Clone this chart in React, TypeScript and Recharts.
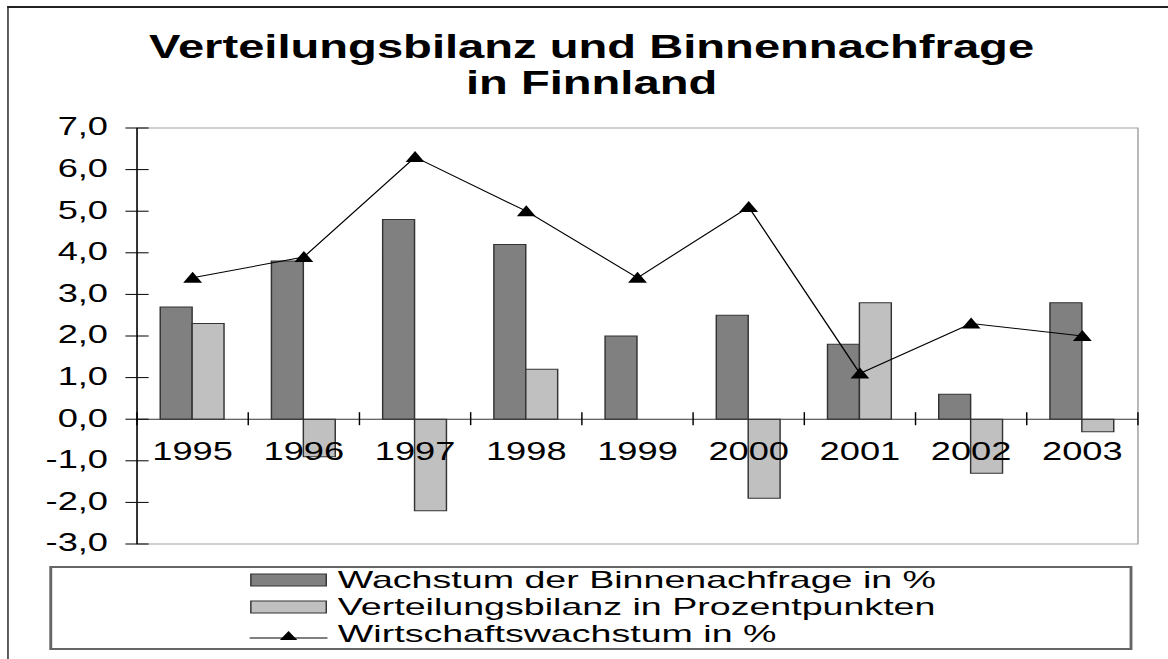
import {
  ComposedChart,
  Bar,
  Line,
  XAxis,
  YAxis,
  ReferenceLine,
  ReferenceArea,
} from "recharts";

// the reference is stretched sideways, so everything is laid out narrow and scaled
const STRETCH = 1.45;
const W = 806;
const H = 659;
const FONT = '"Liberation Sans", Arial, sans-serif';

const years = ["1995", "1996", "1997", "1998", "1999", "2000", "2001", "2002", "2003"];
const binnennachfrage = [2.7, 3.8, 4.8, 4.2, 2.0, 2.5, 1.8, 0.6, 2.8];
const verteilungsbilanz = [2.3, -0.9, -2.2, 1.2, 0, -1.9, 2.8, -1.3, -0.3];
const wirtschaftswachstum = [3.4, 3.9, 6.3, 5.0, 3.4, 5.1, 1.1, 2.3, 2.0];
const yTicks = [-3, -2, -1, 0, 1, 2, 3, 4, 5, 6, 7];

const seriesNames = [
  "Wachstum der Binnenachfrage in %",
  "Verteilungsbilanz in Prozentpunkten",
  "Wirtschaftswachstum in %",
];

const DARK = "#808080";
const LIGHT = "#c0c0c0";

const data = years.map((year, i) => ({
  year,
  binnen: binnennachfrage[i],
  bilanz: verteilungsbilanz[i],
  wachstum: wirtschaftswachstum[i],
}));

const PLOT_LEFT = 94.5;
const PLOT_RIGHT = 784.8;
const PLOT_TOP = 128;
const PLOT_BOTTOM = 544;
const Y_W = 60;
const X_H = 1;
const Y_MIN = -3;
const Y_MAX = 7;
const PLOT_H = PLOT_BOTTOM - PLOT_TOP;
const BAND = (PLOT_RIGHT - PLOT_LEFT) / years.length;
const ZERO_Y = PLOT_TOP + (PLOT_H * Y_MAX) / (Y_MAX - Y_MIN);
const TICK_FONT = 25;

const Triangle = (props: any) => {
  const { cx, cy } = props;
  if (cx == null || cy == null) return null;
  return (
    <path
      d={`M${cx},${cy - 6} L${cx + 6.5},${cy + 5} L${cx - 6.5},${cy + 5} Z`}
      fill="#000"
    />
  );
};

const YTick = (props: any) => {
  const { y, payload } = props;
  return (
    <g>
      <line x1={PLOT_LEFT - 8} x2={PLOT_LEFT + 8} y1={y} y2={y} stroke="#000" />
      <text
        x={PLOT_LEFT - 20}
        y={y}
        dy="0.3em"
        textAnchor="end"
        fontFamily={FONT}
        fontSize={TICK_FONT}
        fill="#000"
      >
        {payload.value.toFixed(1).replace(".", ",")}
      </text>
    </g>
  );
};

const XTick = (props: any) => {
  const { x, payload, index } = props;
  const left = x - BAND / 2;
  const right = x + BAND / 2;
  return (
    <g>
      <line x1={left} x2={left} y1={ZERO_Y - 7} y2={ZERO_Y + 6} stroke="#000" />
      {index === years.length - 1 && (
        <line x1={right} x2={right} y1={ZERO_Y - 7} y2={ZERO_Y + 6} stroke="#000" />
      )}
      <text
        x={x}
        y={ZERO_Y + 41}
        textAnchor="middle"
        fontFamily={FONT}
        fontSize={TICK_FONT}
        fill="#000"
      >
        {payload.value}
      </text>
    </g>
  );
};

function LegendBox() {
  const rows = [
    { name: seriesNames[0], kind: "bar", color: DARK },
    { name: seriesNames[1], kind: "bar", color: LIGHT },
    { name: seriesNames[2], kind: "line", color: "#000" },
  ];
  const ROW = 27;
  return (
    <div
      style={{
        position: "absolute",
        left: 33.8,
        top: 566,
        width: 747,
        height: 84,
        boxSizing: "border-box",
        border: "2px solid #666",
        background: "#fff",
        fontFamily: FONT,
      }}
    >
      {rows.map((r, i) => (
        <div
          key={r.name}
          style={{
            position: "absolute",
            left: 136,
            top: -2 + i * ROW,
            height: ROW,
            display: "flex",
            alignItems: "center",
            whiteSpace: "nowrap",
          }}
        >
          <svg width={54} height={14} style={{ marginRight: 7, flex: "none" }}>
            {r.kind === "bar" ? (
              <rect x={1} y={1} width={52} height={12} fill={r.color} stroke="#333" />
            ) : (
              <g>
                <line x1={0} x2={54} y1={11} y2={11} stroke="#000" />
                <path d="M27,4 L33,13 L21,13 Z" fill="#000" />
              </g>
            )}
          </svg>
          <span
            style={{
              display: "inline-block",
              fontSize: 24,
              lineHeight: `${ROW}px`,
              color: "#000",
              transform: "scaleX(1.08)",
              transformOrigin: "0 50%",
            }}
          >
            {r.name}
          </span>
        </div>
      ))}
    </div>
  );
}

export default function App() {
  return (
    <div
      style={{
        position: "absolute",
        left: 0,
        top: 0,
        width: W,
        height: H,
        overflow: "hidden",
        background: "#fff",
        transform: `scaleX(${STRETCH})`,
        transformOrigin: "0 0",
      }}
    >
      <div
        style={{
          position: "absolute",
          left: 5,
          top: 6,
          width: W,
          height: H,
          borderLeft: "1.4px solid #222",
          borderTop: "2px solid #222",
        }}
      />
      <div
        style={{
          position: "absolute",
          left: 0,
          top: 29,
          width: 816,
          textAlign: "center",
          fontFamily: FONT,
          fontWeight: "bold",
          fontSize: 32.5,
          lineHeight: "36px",
          color: "#000",
        }}
      >
        Verteilungsbilanz und Binnennachfrage
        <br />
        in Finnland
      </div>
      <div style={{ position: "absolute", left: 0, top: 0 }}>
        <ComposedChart
          width={W}
          height={H}
          data={data}
          margin={{
            top: PLOT_TOP,
            left: PLOT_LEFT - Y_W,
            right: W - PLOT_RIGHT,
            bottom: H - PLOT_BOTTOM - X_H,
          }}
          barGap={0}
          barSize={22}
        >
          <ReferenceArea y1={Y_MIN} y2={Y_MAX} fill="none" stroke="#a0a0a0" strokeWidth={1} />
          <XAxis
            dataKey="year"
            height={X_H}
            interval={0}
            axisLine={false}
            tickLine={false}
            tick={<XTick />}
          />
          <YAxis
            width={Y_W}
            domain={[Y_MIN, Y_MAX]}
            ticks={yTicks}
            interval={0}
            allowDataOverflow
            axisLine={{ stroke: "#000" }}
            tickLine={false}
            tick={<YTick />}
          />
          <ReferenceLine y={0} stroke="#333" />
          <Bar
            dataKey="binnen"
            name={seriesNames[0]}
            fill={DARK}
            stroke="#333"
            isAnimationActive={false}
          />
          <Bar
            dataKey="bilanz"
            name={seriesNames[1]}
            fill={LIGHT}
            stroke="#333"
            isAnimationActive={false}
          />
          <Line
            dataKey="wachstum"
            name={seriesNames[2]}
            type="linear"
            stroke="#000"
            strokeWidth={1}
            dot={<Triangle />}
            activeDot={false}
            isAnimationActive={false}
          />
        </ComposedChart>
      </div>
      <LegendBox />
    </div>
  );
}
